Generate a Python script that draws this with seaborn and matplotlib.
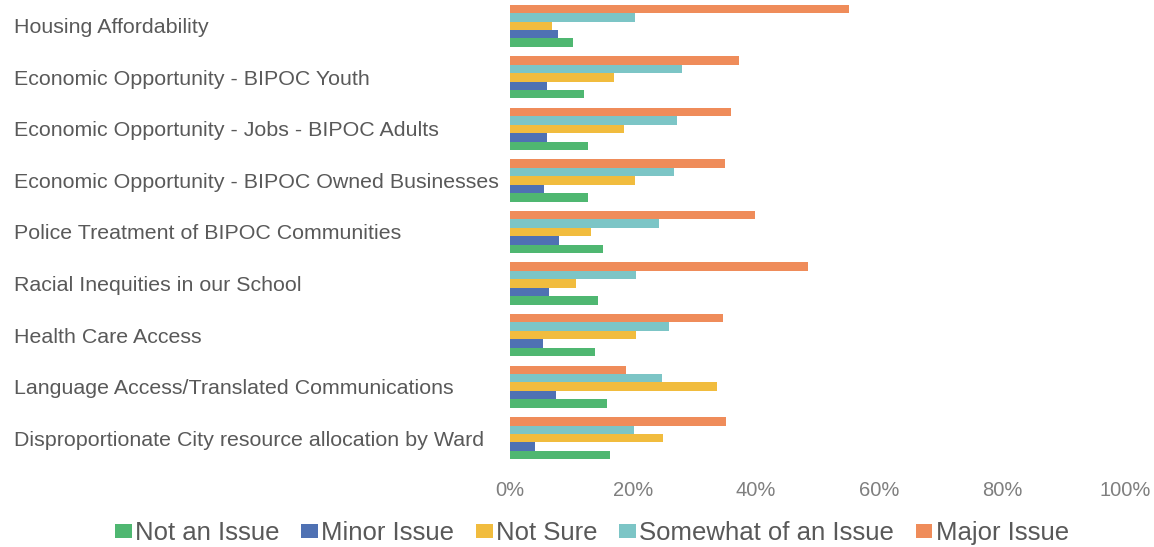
import matplotlib
matplotlib.use("Agg")
import matplotlib.pyplot as plt
from matplotlib.patches import Patch
from matplotlib.ticker import PercentFormatter
import pandas as pd
import seaborn as sns

categories = [
    "Housing Affordability",
    "Economic Opportunity - BIPOC Youth",
    "Economic Opportunity - Jobs - BIPOC Adults",
    "Economic Opportunity - BIPOC Owned Businesses",
    "Police Treatment of BIPOC Communities",
    "Racial Inequities in our School",
    "Health Care Access",
    "Language Access/Translated Communications",
    "Disproportionate City resource allocation by Ward",
]

not_an_issue = [10.2, 12.1, 12.7, 12.7, 15.2, 14.3, 13.9, 15.7, 16.2]
minor_issue = [7.8, 6.0, 6.0, 5.6, 7.9, 6.3, 5.4, 7.4, 4.0]
not_sure = [6.8, 16.9, 18.5, 20.3, 13.2, 10.8, 20.5, 33.7, 24.8]
somewhat_issue = [20.3, 28.0, 27.1, 26.6, 24.3, 20.5, 25.9, 24.7, 20.2]
major_issue = [55.1, 37.2, 36.0, 35.0, 39.8, 48.4, 34.6, 18.8, 35.1]

series_names = ["Not an Issue", "Minor Issue", "Not Sure",
                "Somewhat of an Issue", "Major Issue"]
series_values = [not_an_issue, minor_issue, not_sure, somewhat_issue, major_issue]
series_colors = ["#4FB771", "#4F71B3", "#F1BC3E", "#7CC5C6", "#EF8C5A"]

rows = []
for name, vals in zip(series_names, series_values):
    for cat, v in zip(categories, vals):
        rows.append({"Issue": cat, "Response": name, "Share": v})
df = pd.DataFrame(rows)

sns.set_theme(style="white")
plt.rcParams["font.family"] = ["Liberation Sans", "DejaVu Sans"]

fig = plt.figure(figsize=(11.54, 5.47), dpi=100)
ax = fig.add_axes([510 / 1154, 1 - 464 / 547, 615 / 1154, 464 / 547])

# Major Issue sits on top within each group, Not an Issue at the bottom
draw_order = series_names[::-1]
palette = dict(zip(series_names, series_colors))
sns.barplot(data=df, y="Issue", x="Share", hue="Response",
            order=categories, hue_order=draw_order, palette=palette,
            orient="h", width=0.82, saturation=1, linewidth=0,
            ax=ax, legend=False)

ax.set_xlim(0, 100)
ax.set_xticks([0, 20, 40, 60, 80, 100])
ax.xaxis.set_major_formatter(PercentFormatter(decimals=0))
ax.set_xlabel("")
ax.set_ylabel("")
for s in ax.spines.values():
    s.set_visible(False)

ax.tick_params(axis="x", length=0, pad=12, labelsize=14.5, labelcolor="#7F7F7F")
ax.tick_params(axis="y", length=0, pad=496 * 72 / 100, labelsize=15.4,
               labelcolor="#595959")
for lbl in ax.get_yticklabels():
    lbl.set_horizontalalignment("left")

handles = [Patch(facecolor=c, edgecolor="none") for c in series_colors]
fig.legend(handles, series_names, loc="center",
           bbox_to_anchor=(592 / 1154, 1 - 533 / 547),
           ncol=5, frameon=False, fontsize=18.5, labelcolor="#595959",
           handlelength=0.65, handleheight=0.47, handletextpad=0.12,
           columnspacing=0.85)

fig.savefig("out.png", dpi=100)
